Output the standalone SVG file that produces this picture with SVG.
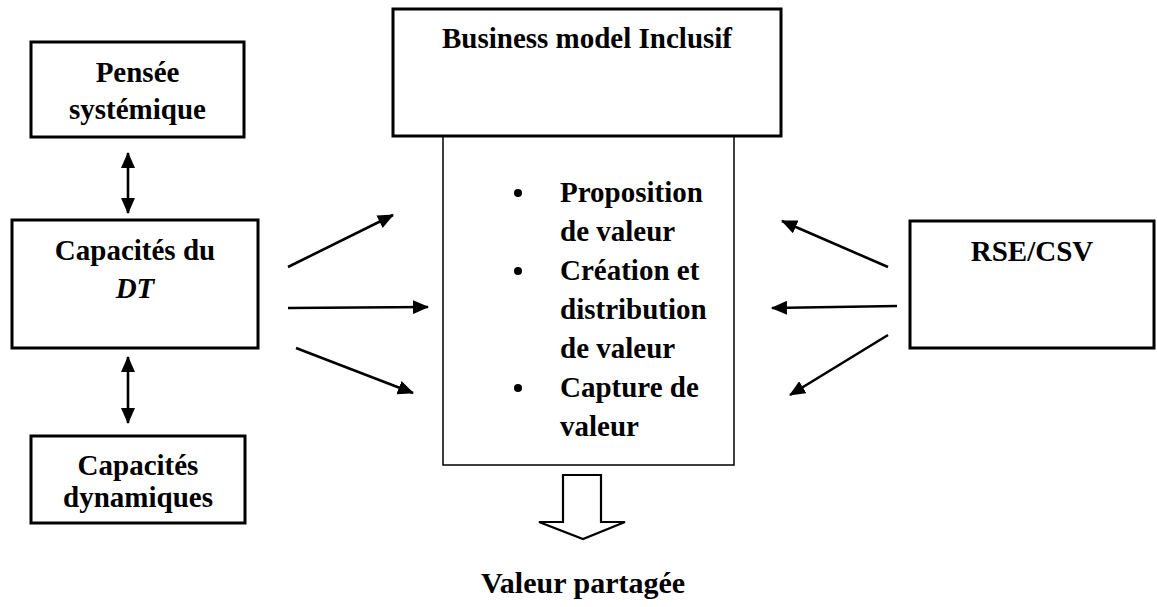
<svg xmlns="http://www.w3.org/2000/svg" width="1157" height="607" viewBox="0 0 1157 607">
<style>
.box{fill:#fff;stroke:#000;stroke-width:3}
.thin{fill:#fff;stroke:#000;stroke-width:1.5}
.t{font-family:"Liberation Serif","Times New Roman",serif;font-weight:bold;font-size:29px;fill:#000}
.c{text-anchor:middle}
.ln{stroke:#000;stroke-width:2.6;fill:none}
</style>
<defs>
<marker id="ah" viewBox="0 0 16 14" refX="15" refY="7" markerWidth="16" markerHeight="14" markerUnits="userSpaceOnUse" orient="auto-start-reverse">
<path d="M0,0 L16,7 L0,14 z" fill="#000"/>
</marker>
</defs>
<rect width="1157" height="607" fill="#fff"/>
<g id="bm-content">
<rect class="thin" x="443" y="136" width="291" height="329"/>
<circle cx="518" cy="193" r="4"/>
<circle cx="518" cy="271" r="4"/>
<circle cx="518" cy="388" r="4"/>
<text class="t" x="560" y="202">Proposition</text>
<text class="t" x="560" y="241">de valeur</text>
<text class="t" x="560" y="280">Création et</text>
<text class="t" x="560" y="319">distribution</text>
<text class="t" x="560" y="358">de valeur</text>
<text class="t" x="560" y="397">Capture de</text>
<text class="t" x="560" y="436">valeur</text>
</g>
<g id="bm-title">
<rect class="box" x="393" y="9" width="388" height="127"/>
<text class="t c" x="587" y="48">Business model Inclusif</text>
</g>
<g id="pensee">
<rect class="box" x="31" y="42" width="213" height="95"/>
<text class="t c" x="137.5" y="82">Pensée</text>
<text class="t c" x="137.5" y="119">systémique</text>
</g>
<g id="capdt">
<rect class="box" x="12" y="220" width="246" height="128"/>
<text class="t c" x="135" y="260">Capacités du</text>
<text class="t c" x="135" y="298"><tspan font-style="italic">DT</tspan></text>
</g>
<g id="capdyn">
<rect class="box" x="31" y="436" width="214" height="87"/>
<text class="t c" x="138" y="475">Capacités</text>
<text class="t c" x="138" y="507">dynamiques</text>
</g>
<g id="rse">
<rect class="box" x="910" y="221" width="244" height="127"/>
<text class="t c" x="1032" y="261">RSE/CSV</text>
</g>
<g id="valeur">
<text class="t c" x="583" y="593" style="font-size:30px">Valeur partagée</text>
</g>
<g id="connectors">
<line class="ln" x1="128" y1="153" x2="128" y2="213" marker-start="url(#ah)" marker-end="url(#ah)"/>
<line class="ln" x1="128" y1="357" x2="128" y2="423" marker-start="url(#ah)" marker-end="url(#ah)"/>
<line class="ln" x1="288" y1="267" x2="393" y2="215" marker-end="url(#ah)"/>
<line class="ln" x1="288" y1="308" x2="428" y2="307" marker-end="url(#ah)"/>
<line class="ln" x1="296" y1="348" x2="413" y2="393" marker-end="url(#ah)"/>
<line class="ln" x1="888" y1="267" x2="782" y2="221" marker-end="url(#ah)"/>
<line class="ln" x1="897" y1="306" x2="772" y2="308" marker-end="url(#ah)"/>
<line class="ln" x1="888" y1="335" x2="790" y2="395" marker-end="url(#ah)"/>
<path d="M563,475 L601,475 L601,522 L625,522 L583,539 L539,522 L563,522 Z" fill="#fff" stroke="#000" stroke-width="2.2" stroke-linejoin="miter"/>
</g>
</svg>
